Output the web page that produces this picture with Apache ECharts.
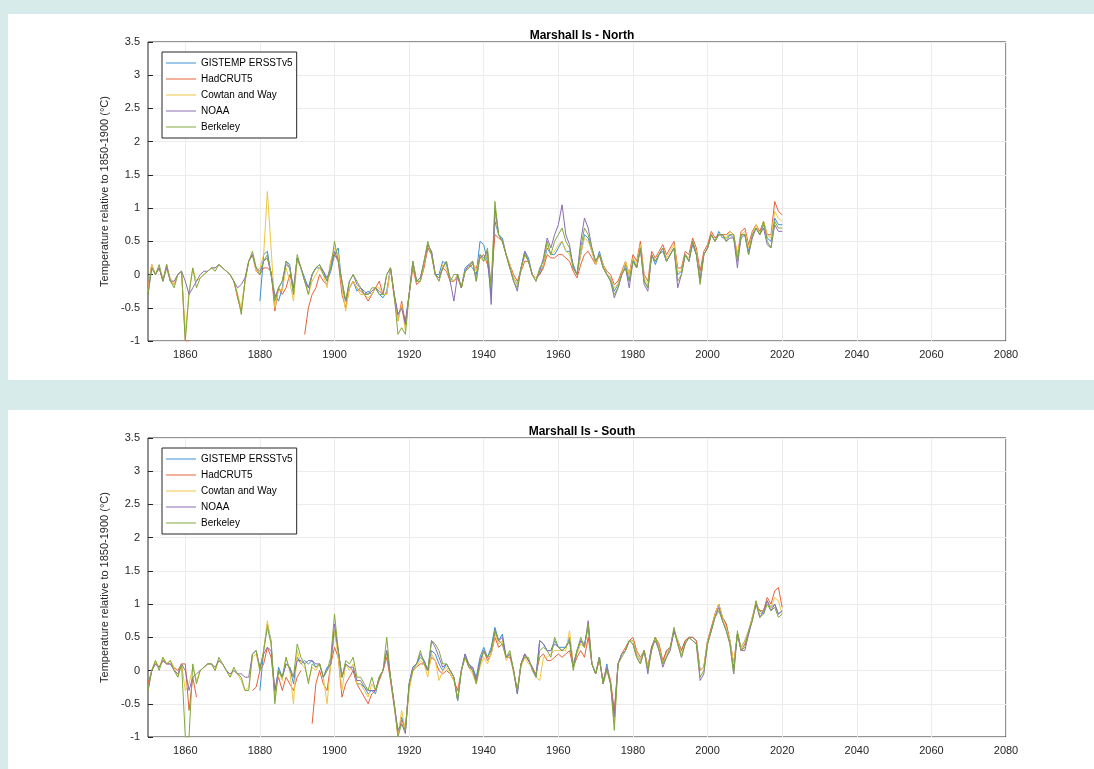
<!DOCTYPE html>
<html>
<head>
<meta charset="utf-8">
<script src="https://cdn.jsdelivr.net/npm/echarts@6/dist/echarts.min.js"></script>
<style>
html,body{margin:0;padding:0;background:#d7ebeb;}
#main{width:1094px;height:769px;}
</style>
</head>
<body>
<div id="main"></div>
<script>
// series names and colours
var names = ['GISTEMP ERSSTv5', 'HadCRUT5', 'Cowtan and Way', 'NOAA', 'Berkeley'];
var colors = ['#3d8fd8', '#e5613a', '#edc643', '#8a6cb3', '#7fa83c'];
var startYear = 1850;
var gisStart = 1880;
var xTicks = [1860, 1880, 1900, 1920, 1940, 1960, 1980, 2000, 2020, 2040, 2060, 2080];

/* North, one row per decade */
var nGis = [
  -0.4,0.3,0.35,0.0,-0.3,-0.4,-0.2,0.2,0.15,-0.3,
  0.25,0.1,-0.05,-0.2,0.0,0.1,0.1,0.05,-0.1,0.05,
  0.3,0.4,-0.2,-0.4,-0.2,-0.1,-0.25,-0.2,-0.3,-0.25,
  -0.3,-0.2,-0.3,-0.35,-0.25,0.1,-0.3,-0.6,-0.5,-0.7,
  -0.3,0.15,-0.1,-0.05,0.15,0.4,0.35,0.0,0.0,0.2,
  0.15,-0.05,-0.1,0.0,-0.2,0.1,0.15,0.1,0.0,0.5,
  0.45,0.2,-0.3,0.8,0.6,0.55,0.3,0.1,-0.05,-0.15,
  0.1,0.35,0.25,0.0,-0.05,0.0,0.15,0.4,0.3,0.3,
  0.4,0.5,0.35,0.35,0.15,0.0,0.3,0.6,0.55,0.35,
  0.15,0.35,0.15,0.0,-0.05,-0.25,-0.15,0.0,0.15,-0.1,
  0.25,0.1,0.4,-0.1,-0.2,0.3,0.15,0.3,0.35,0.2,
  0.3,0.4,0.0,0.05,0.3,0.2,0.45,0.3,-0.05,0.3,
  0.4,0.6,0.5,0.65,0.55,0.55,0.6,0.55,0.25,0.55,
  0.6,0.35,0.6,0.7,0.6,0.75,0.55,0.5,0.85,0.75,
  0.75
];
var nHad = [
  -0.2,0.15,0.0,0.1,-0.1,0.15,-0.1,-0.15,0.0,0.05,
  -1.0,-1.0,null,null,null,null,null,null,null,null,
  null,null,null,-0.1,-0.35,-0.55,-0.1,0.2,0.3,0.05,
  0.0,0.1,0.1,0.05,-0.55,-0.2,-0.3,-0.2,0.0,-0.2,
  null,null,-0.9,-0.5,-0.3,-0.2,0.0,-0.1,-0.15,0.2,
  0.3,0.2,-0.3,-0.5,-0.2,-0.1,-0.2,-0.25,-0.3,-0.4,
  -0.3,-0.2,-0.1,-0.3,-0.3,0.1,-0.35,-0.7,-0.4,-0.75,
  -0.3,0.1,-0.15,-0.1,0.1,0.4,0.3,0.0,-0.05,0.1,
  0.05,-0.1,-0.1,-0.05,-0.2,0.05,0.1,0.15,0.1,0.25,
  0.3,0.15,-0.1,0.6,0.55,0.5,0.3,0.15,0.0,-0.1,
  0.05,0.2,0.2,0.0,-0.05,0.0,0.1,0.3,0.25,0.25,
  0.3,0.3,0.25,0.2,0.05,-0.05,0.15,0.3,0.35,0.25,
  0.15,0.3,0.15,0.05,0.0,-0.15,-0.1,0.05,0.2,0.0,
  0.3,0.2,0.5,0.0,-0.1,0.35,0.25,0.35,0.45,0.3,
  0.4,0.5,0.1,0.1,0.35,0.3,0.55,0.4,0.05,0.35,
  0.45,0.65,0.55,0.6,0.6,0.6,0.65,0.6,0.3,0.65,
  0.7,0.45,0.65,0.75,0.65,0.8,0.6,0.6,1.1,0.95,
  0.9
];
var nCw = [
  -0.25,0.15,0.0,0.1,-0.05,0.1,-0.05,-0.15,0.0,0.05,
  -0.9,-0.25,0.1,-0.1,-0.05,0.0,0.05,0.1,0.1,0.15,
  0.1,0.05,0.0,-0.1,-0.3,-0.5,-0.1,0.2,0.3,0.05,
  0.1,0.3,1.25,0.4,-0.5,-0.2,-0.25,0.1,-0.1,-0.4,
  0.2,0.1,-0.1,-0.3,-0.1,0.0,0.1,0.0,-0.2,0.2,
  0.4,0.3,-0.2,-0.55,-0.2,-0.1,-0.2,-0.3,-0.3,-0.35,
  -0.3,-0.2,-0.2,-0.3,-0.3,0.1,-0.3,-0.7,-0.45,-0.85,
  -0.3,0.15,-0.1,-0.1,0.15,0.45,0.3,0.0,-0.1,0.15,
  0.1,-0.05,-0.1,0.0,-0.2,0.05,0.1,0.2,0.05,0.25,
  0.2,0.3,-0.15,0.9,0.6,0.5,0.3,0.15,-0.05,-0.15,
  0.05,0.3,0.2,0.0,-0.05,0.05,0.15,0.45,0.3,0.35,
  0.45,0.5,0.35,0.3,0.1,0.0,0.3,0.55,0.5,0.35,
  0.15,0.3,0.15,0.0,-0.05,-0.2,-0.15,0.0,0.2,0.0,
  0.25,0.15,0.45,-0.05,-0.15,0.3,0.2,0.3,0.4,0.25,
  0.35,0.45,0.05,0.05,0.3,0.25,0.5,0.35,-0.1,0.3,
  0.4,0.6,0.5,0.6,0.6,0.55,0.65,0.6,0.3,0.6,
  0.65,0.4,0.6,0.75,0.6,0.8,0.6,0.55,0.95,0.85,
  0.8
];
var nNoaa = [
  -0.3,0.1,0.0,0.1,-0.1,0.1,-0.1,-0.1,0.0,0.05,
  -0.1,-0.3,-0.2,-0.1,0.0,0.05,0.05,0.1,0.1,0.15,
  0.1,0.05,0.0,-0.1,-0.2,-0.15,-0.05,0.2,0.3,0.1,
  0.05,0.2,0.25,0.0,-0.35,-0.2,-0.1,0.15,0.1,-0.2,
  0.25,0.1,-0.1,-0.2,0.0,0.1,0.15,0.05,-0.05,0.1,
  0.35,0.2,-0.1,-0.4,-0.1,0.0,-0.15,-0.2,-0.25,-0.3,
  -0.25,-0.2,-0.25,-0.3,0.0,0.1,-0.3,-0.6,-0.5,-0.75,
  -0.3,0.2,-0.1,-0.05,0.2,0.45,0.35,0.0,-0.05,0.1,
  0.2,-0.1,-0.4,0.0,-0.2,0.05,0.15,0.2,-0.1,0.3,
  0.25,0.35,-0.45,1.0,0.6,0.5,0.3,0.1,-0.1,-0.25,
  0.1,0.35,0.2,0.0,-0.1,0.05,0.25,0.55,0.4,0.6,
  0.75,1.05,0.6,0.45,0.1,0.0,0.5,0.85,0.7,0.4,
  0.2,0.3,0.1,0.0,-0.1,-0.35,-0.2,0.0,0.1,-0.2,
  0.2,0.1,0.4,-0.15,-0.25,0.3,0.2,0.3,0.4,0.2,
  0.3,0.4,-0.2,0.0,0.3,0.2,0.5,0.3,-0.1,0.3,
  0.4,0.6,0.5,0.6,0.6,0.5,0.55,0.55,0.1,0.6,
  0.6,0.3,0.55,0.7,0.6,0.7,0.45,0.4,0.75,0.65,
  0.65
];
var nBerk = [
  -0.3,0.1,0.0,0.15,-0.1,0.15,-0.1,-0.2,0.0,0.05,
  -1.0,-0.3,0.1,-0.2,-0.05,0.0,0.05,0.1,0.05,0.15,
  0.1,0.05,0.0,-0.1,-0.3,-0.6,-0.1,0.2,0.35,0.1,
  0.0,0.2,0.3,0.0,-0.4,-0.2,-0.1,0.2,0.1,-0.3,
  0.3,0.1,-0.1,-0.3,0.0,0.1,0.15,0.0,-0.1,0.1,
  0.5,0.2,-0.1,-0.4,-0.1,0.0,-0.1,-0.2,-0.3,-0.3,
  -0.2,-0.2,-0.3,-0.3,0.0,0.1,-0.3,-0.9,-0.8,-0.9,
  -0.3,0.2,-0.1,-0.1,0.2,0.5,0.3,0.0,-0.1,0.1,
  0.2,-0.1,0.0,0.0,-0.2,0.05,0.1,0.2,-0.1,0.3,
  0.2,0.4,-0.2,1.1,0.6,0.5,0.3,0.1,-0.1,-0.2,
  0.1,0.3,0.2,0.0,-0.1,0.1,0.2,0.5,0.3,0.5,
  0.6,0.7,0.5,0.4,0.1,0.0,0.4,0.7,0.6,0.4,
  0.2,0.3,0.1,0.0,-0.1,-0.3,-0.2,0.0,0.1,-0.1,
  0.2,0.1,0.4,-0.1,-0.2,0.3,0.2,0.3,0.4,0.2,
  0.3,0.4,-0.1,0.0,0.3,0.2,0.5,0.3,-0.15,0.3,
  0.4,0.6,0.5,0.6,0.6,0.5,0.6,0.6,0.2,0.6,
  0.6,0.3,0.6,0.7,0.6,0.8,0.5,0.4,0.8,0.7,
  0.7
];

/* South */
var sGis = [
  -0.3,0.3,0.7,0.45,-0.4,0.05,-0.1,0.1,0.05,-0.2,
  0.2,0.1,0.15,0.1,0.15,0.05,0.1,-0.1,0.05,0.1,
  0.6,0.3,-0.1,0.1,0.05,0.0,-0.2,-0.2,-0.25,-0.35,
  -0.3,-0.35,-0.1,0.0,0.3,-0.1,-0.5,-0.95,-0.7,-0.9,
  -0.2,0.05,0.1,0.2,0.15,0.0,0.3,0.25,0.1,0.0,
  0.1,0.0,-0.1,-0.45,0.0,0.25,0.1,0.05,-0.1,0.2,
  0.35,0.2,0.35,0.65,0.45,0.55,0.2,0.25,0.0,-0.35,
  0.1,0.25,0.15,0.05,-0.1,0.45,0.4,0.3,0.3,0.45,
  0.35,0.35,0.35,0.5,0.1,0.3,0.45,0.4,0.65,0.1,
  -0.05,0.2,-0.2,0.1,-0.2,-0.7,0.1,0.25,0.3,0.45,
  0.45,0.25,0.15,0.3,0.05,0.35,0.5,0.35,0.1,0.3,
  0.35,0.6,0.45,0.3,0.45,0.5,0.5,0.45,0.0,0.05,
  0.45,0.6,0.85,1.0,0.8,0.7,0.45,0.05,0.55,0.35,
  0.45,0.6,0.8,1.0,0.9,0.85,1.05,0.95,1.0,0.85,
  0.9
];
var sHad = [
  -0.2,0.0,0.1,0.05,0.15,0.1,0.1,0.05,0.0,0.1,
  0.1,-0.6,-0.1,-0.4,null,null,null,null,null,null,
  null,null,null,null,null,-0.6,null,null,-0.3,-0.25,
  0.0,0.1,0.35,0.2,-0.3,-0.1,-0.3,-0.1,-0.2,-0.3,
  -0.1,0.0,null,null,-0.8,-0.2,0.0,-0.2,-0.3,0.1,
  0.35,0.2,-0.4,-0.2,-0.1,0.0,-0.2,-0.3,-0.4,-0.5,
  -0.35,-0.3,-0.15,0.0,0.2,-0.15,-0.55,-0.95,-0.75,-0.85,
  -0.25,0.0,0.05,0.1,0.1,0.0,0.2,0.15,0.0,-0.05,
  0.0,-0.05,-0.15,-0.3,0.0,0.2,0.1,0.0,-0.15,0.1,
  0.3,0.15,0.25,0.5,0.35,0.4,0.2,0.2,0.0,-0.3,
  0.1,0.25,0.15,0.05,-0.05,0.2,0.25,0.15,0.15,0.2,
  0.25,0.2,0.25,0.3,0.05,0.2,0.3,0.2,0.5,0.1,
  -0.05,0.15,-0.15,0.05,-0.15,-0.6,0.1,0.25,0.35,0.45,
  0.5,0.3,0.2,0.3,0.05,0.35,0.5,0.4,0.15,0.3,
  0.35,0.6,0.45,0.3,0.45,0.5,0.5,0.45,0.0,0.05,
  0.45,0.65,0.85,1.0,0.8,0.7,0.45,0.1,0.55,0.3,
  0.4,0.55,0.8,1.0,0.9,0.9,1.1,1.0,1.2,1.25,
  0.95
];
var sCw = [
  -0.3,0.0,0.15,0.05,0.2,0.1,0.15,0.05,-0.1,0.1,
  -0.3,-0.2,0.05,-0.15,0.0,0.05,0.1,0.1,0.0,0.15,
  0.1,0.0,-0.1,0.0,-0.05,-0.15,-0.3,-0.25,0.2,0.25,
  0.0,0.3,0.75,0.4,-0.4,0.0,-0.15,0.2,0.0,-0.5,
  0.3,0.1,0.05,-0.15,0.05,0.0,0.1,-0.1,-0.5,0.1,
  0.6,0.2,-0.3,0.1,0.0,0.1,-0.2,-0.2,-0.3,-0.4,
  -0.2,-0.3,-0.1,0.0,0.3,-0.1,-0.5,-1.0,-0.6,-0.9,
  -0.3,0.0,0.05,0.15,0.1,-0.1,0.25,0.15,-0.15,0.0,
  0.05,-0.05,-0.15,-0.4,0.0,0.2,0.05,-0.05,-0.2,0.05,
  0.2,0.1,0.25,0.55,0.4,0.45,0.15,0.25,-0.05,-0.3,
  0.05,0.2,0.1,0.05,-0.1,-0.15,0.2,0.2,0.25,0.3,
  0.3,0.3,0.3,0.6,0.1,0.25,0.4,0.35,0.7,0.1,
  -0.05,0.2,-0.2,0.05,-0.2,-0.8,0.1,0.25,0.3,0.45,
  0.45,0.25,0.15,0.3,0.05,0.3,0.5,0.35,0.1,0.25,
  0.35,0.6,0.45,0.25,0.4,0.5,0.45,0.4,0.0,0.05,
  0.45,0.6,0.85,1.0,0.8,0.65,0.45,0.1,0.55,0.35,
  0.45,0.6,0.8,1.05,0.85,0.9,1.05,0.95,1.1,1.05,
  0.85
];
var sNoaa = [
  -0.3,0.0,0.1,0.05,0.15,0.1,0.1,0.0,-0.05,0.1,
  0.0,-0.3,-0.1,-0.05,0.0,0.05,0.1,0.1,0.05,0.15,
  0.1,0.0,-0.05,0.0,-0.05,-0.05,-0.1,-0.1,0.25,0.3,
  0.05,0.25,0.35,0.3,-0.3,0.0,-0.1,0.1,0.05,-0.1,
  0.15,0.15,0.1,0.15,0.15,0.1,0.1,-0.1,0.0,0.1,
  0.7,0.3,-0.1,0.1,0.05,0.05,-0.15,-0.15,-0.25,-0.3,
  -0.3,-0.3,-0.1,0.0,0.3,-0.1,-0.5,-0.9,-0.8,-0.95,
  -0.2,0.05,0.1,0.25,0.15,0.0,0.45,0.35,0.2,0.05,
  0.1,0.0,-0.1,-0.45,0.0,0.25,0.05,0.05,-0.15,0.15,
  0.3,0.2,0.3,0.6,0.45,0.5,0.2,0.25,0.0,-0.35,
  0.1,0.25,0.15,0.05,-0.1,0.45,0.4,0.3,0.3,0.4,
  0.35,0.3,0.35,0.45,0.05,0.3,0.45,0.35,0.75,0.1,
  -0.05,0.2,-0.2,0.05,-0.2,-0.7,0.1,0.25,0.3,0.45,
  0.4,0.2,0.1,0.3,-0.05,0.35,0.45,0.3,0.05,0.2,
  0.3,0.6,0.4,0.2,0.4,0.5,0.45,0.4,-0.15,-0.05,
  0.4,0.6,0.8,0.95,0.75,0.6,0.4,-0.05,0.55,0.3,
  0.3,0.55,0.75,1.0,0.8,0.9,1.05,0.9,1.0,0.85,
  0.9
];
var sBerk = [
  -0.3,0.0,0.15,0.0,0.2,0.1,0.15,0.0,-0.1,0.1,
  -1.0,-1.0,0.1,-0.2,0.0,0.05,0.1,0.1,0.0,0.2,
  0.1,0.0,-0.1,0.05,-0.05,-0.1,-0.3,-0.3,0.25,0.3,
  0.0,0.3,0.65,0.4,-0.5,0.0,-0.1,0.2,0.0,-0.1,
  0.4,0.2,0.1,-0.2,0.1,0.05,0.1,-0.1,0.0,0.2,
  0.85,0.3,-0.1,0.15,0.1,0.2,-0.1,-0.1,-0.2,-0.3,
  -0.1,-0.3,-0.1,0.0,0.5,-0.1,-0.5,-1.0,-0.8,-0.9,
  -0.2,0.0,0.1,0.3,0.1,0.0,0.45,0.4,0.3,0.1,
  0.1,0.0,-0.1,-0.45,0.0,0.2,0.05,0.0,-0.2,0.1,
  0.3,0.2,0.3,0.6,0.45,0.4,0.2,0.3,0.0,-0.3,
  0.1,0.2,0.2,0.0,-0.1,0.3,0.35,0.3,0.2,0.5,
  0.35,0.3,0.35,0.45,0.0,0.3,0.5,0.35,0.7,0.1,
  -0.05,0.2,-0.2,0.0,-0.2,-0.9,0.1,0.2,0.3,0.45,
  0.4,0.2,0.1,0.3,0.0,0.3,0.5,0.3,0.1,0.2,
  0.35,0.65,0.4,0.2,0.4,0.5,0.45,0.4,-0.1,0.0,
  0.4,0.6,0.8,0.9,0.75,0.6,0.4,-0.05,0.6,0.3,
  0.35,0.6,0.75,1.05,0.8,0.85,1.0,0.9,0.95,0.8,
  0.85
];

var pairs = function (arr, y0) {
    return arr.map(function (v, i) { return [y0 + i, v]; });
};

var panels = [
    {title: 'Marshall Is - North', top: 42, bg: 14, data: [pairs(nGis, gisStart), pairs(nHad, startYear), pairs(nCw, startYear), pairs(nNoaa, startYear), pairs(nBerk, startYear)]},
    {title: 'Marshall Is - South', top: 438, bg: 410, data: [pairs(sGis, gisStart), pairs(sHad, startYear), pairs(sCw, startYear), pairs(sNoaa, startYear), pairs(sBerk, startYear)]}
];

var txt = {fontFamily: 'Liberation Sans, Arial', fontSize: 11, color: '#262626'};
var grids = [], xAxes = [], yAxes = [], series = [], titles = [], legends = [], graphics = [];

panels.forEach(function (p, k) {
    graphics.push({type: 'rect', z: -10, shape: {x: 8, y: p.bg, width: 1086, height: 366}, style: {fill: '#ffffff'}});
    grids.push({left: 148, right: 88, top: p.top, height: 299, show: true, borderColor: '#262626', borderWidth: 1});
    titles.push({text: p.title, left: 577, top: p.top - 17, textAlign: 'center',
        textStyle: {fontFamily: 'Liberation Sans, Arial', fontSize: 12, fontWeight: 'bold', color: '#000'}});
    xAxes.push({type: 'value', gridIndex: k, min: 1850, max: 2080, interval: 10,
        axisLine: {show: false}, axisTick: {show: false}, splitLine: {show: false},
        axisLabel: Object.assign({margin: 8, formatter: function (v) { return (v % 20 === 0) ? String(v) : ''; }}, txt)});
    yAxes.push({type: 'value', gridIndex: k, min: -1, max: 3.5, interval: 0.5,
        name: 'Temperature relative to 1850-1900 (°C)', nameLocation: 'middle', nameGap: 25,
        nameTextStyle: Object.assign({}, txt),
        axisLine: {show: false}, axisTick: {show: true, inside: true, length: 5, lineStyle: {color: '#262626'}},
        splitLine: {show: true, lineStyle: {color: '#ececec'}},
        axisLabel: Object.assign({margin: 8}, txt)});
    legends.push({orient: 'vertical', left: 162, top: p.top + 10, data: names, itemGap: 6, z: 20,
        itemWidth: 30, itemHeight: 1, icon: 'rect', borderColor: '#262626', borderWidth: 1,
        backgroundColor: '#fff', padding: [6, 4, 6, 4], selectedMode: false,
        textStyle: {fontFamily: 'Liberation Sans, Arial', fontSize: 10, color: '#000', lineHeight: 10}});
    names.forEach(function (n, i) {
        var s = {name: n, type: 'line', xAxisIndex: k, yAxisIndex: k, data: p.data[i],
            showSymbol: false, connectNulls: false, color: colors[i],
            lineStyle: {width: 1, color: colors[i]}, animation: false};
        if (i === 0) {
            s.markLine = {silent: true, symbol: 'none', label: {show: false}, z: 1,
                lineStyle: {color: '#ececec', type: 'solid', width: 1},
                data: xTicks.map(function (t) { return {xAxis: t}; })};
        }
        series.push(s);
    });
});

var myChart = echarts.init(document.getElementById('main'));
myChart.setOption({
    backgroundColor: '#d7ebeb',
    animation: false,
    graphic: graphics,
    title: titles,
    legend: legends,
    grid: grids,
    xAxis: xAxes,
    yAxis: yAxes,
    series: series
});
</script>
</body>
</html>
